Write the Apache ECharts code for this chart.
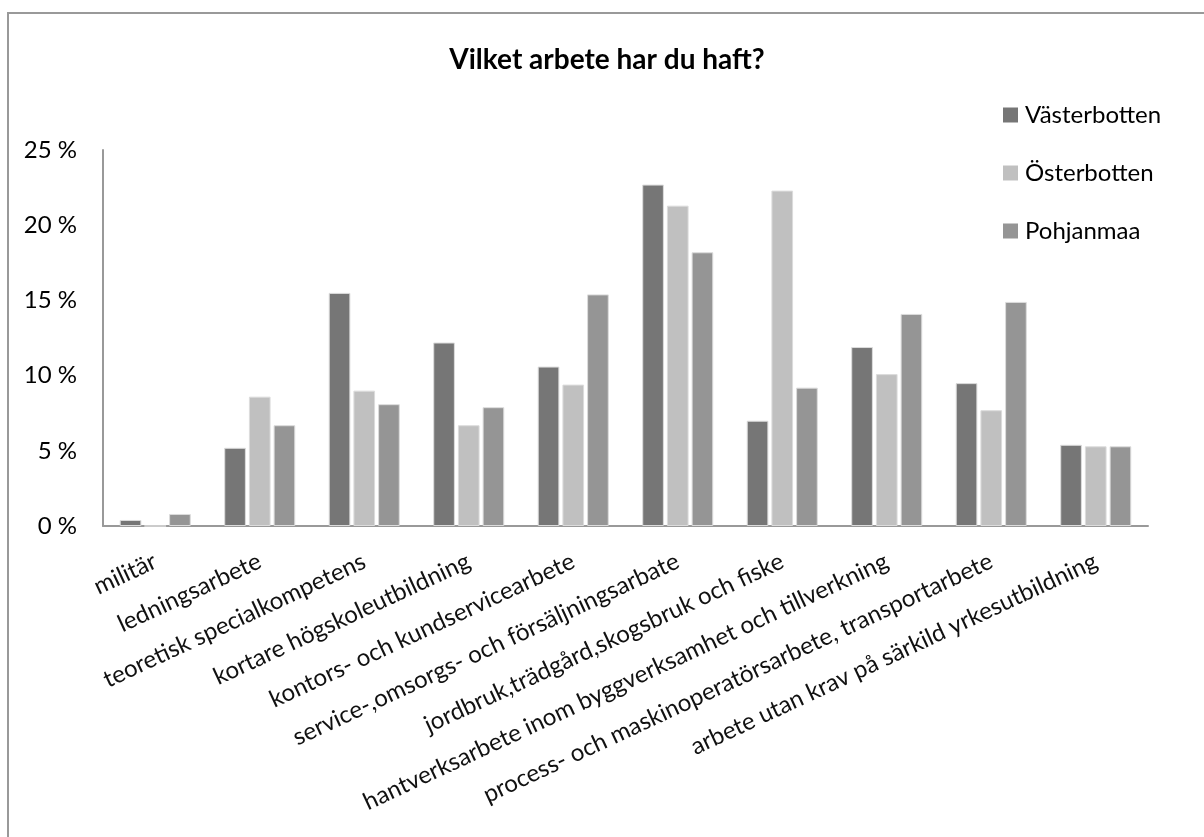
<!DOCTYPE html>
<html>
<head>
<meta charset="utf-8">
<script src="https://cdn.jsdelivr.net/npm/echarts@6/dist/echarts.min.js"></script>
<style>
  html, body { margin: 0; padding: 0; background: #fff; }
  #chart { width: 1204px; height: 837px; }
</style>
</head>
<body>
<div id="chart"></div>
<script>
"use strict";

var categories = [
    "militär",
    "ledningsarbete",
    "teoretisk specialkompetens",
    "kortare högskoleutbildning",
    "kontors- och kundservicearbete",
    "service-,omsorgs- och försäljningsarbate",
    "jordbruk,trädgård,skogsbruk och fiske",
    "hantverksarbete inom byggverksamhet och tillverkning",
    "process- och maskinoperatörsarbete, transportarbete",
    "arbete utan krav på särkild yrkesutbildning"
];

var vasterbotten = [0.4, 5.2, 15.5, 12.2, 10.6, 22.7, 7.0, 11.9, 9.5, 5.4];
var osterbotten  = [0,   8.6,  9.0,  6.7,  9.4, 21.3, 22.3, 10.1, 7.7, 5.3];
var pohjanmaa    = [0.8, 6.7,  8.1,  7.9, 15.4, 18.2,  9.2, 14.1, 14.9, 5.3];

var yTicks = [0, 5, 10, 15, 20, 25];

var font = "Lato, 'Open Sans', sans-serif";

var chart = echarts.init(document.getElementById("chart"));

function barSeries(name, data, color) {
    return {
        name: name,
        type: "bar",
        data: data,
        barGap: "14%",
        barCategoryGap: "32%",
        itemStyle: { color: color, borderColor: "#dcdcdc", borderWidth: 1 }
    };
}

chart.setOption({
    backgroundColor: "#fff",
    animation: false,
    graphic: [{
        type: "rect",
        shape: { x: 8, y: 13, width: 1220, height: 860 },
        style: { fill: "none", stroke: "#999", lineWidth: 2 }
    }],
    title: {
        text: "Vilket arbete har du haft?",
        left: 602,
        top: 41,
        textAlign: "center",
        textStyle: { fontFamily: font, fontSize: 28, fontWeight: "bold", color: "#000" }
    },
    legend: {
        orient: "vertical",
        left: 998,
        top: 98,
        itemWidth: 15,
        itemHeight: 15,
        itemGap: 34,
        icon: "rect",
        itemStyle: { borderWidth: 0 },
        textStyle: { fontFamily: font, fontSize: 24, color: "#000", padding: [0, 0, 0, 2] },
        data: ["Västerbotten", "Österbotten", "Pohjanmaa"]
    },
    grid: { left: 103, right: 56, top: 150, bottom: 311, containLabel: false },
    xAxis: {
        type: "category",
        data: categories,
        axisLine: { lineStyle: { color: "#999", width: 2 } },
        axisTick: { show: false },
        axisLabel: {
            interval: 0,
            rotate: 25,
            margin: 34,
            fontFamily: font,
            fontSize: 24,
            color: "#111"
        }
    },
    yAxis: {
        type: "value",
        min: yTicks[0],
        max: yTicks[yTicks.length - 1],
        interval: yTicks[1] - yTicks[0],
        axisLine: { show: true, lineStyle: { color: "#999", width: 2 } },
        axisTick: { show: false },
        splitLine: { show: false },
        axisLabel: {
            formatter: "{value} %",
            margin: 26,
            fontFamily: font,
            fontSize: 24,
            color: "#000"
        }
    },
    series: [
        barSeries("Västerbotten", vasterbotten, "#767676"),
        barSeries("Österbotten", osterbotten, "#c0c0c0"),
        barSeries("Pohjanmaa", pohjanmaa, "#959595")
    ]
});
</script>
</body>
</html>
